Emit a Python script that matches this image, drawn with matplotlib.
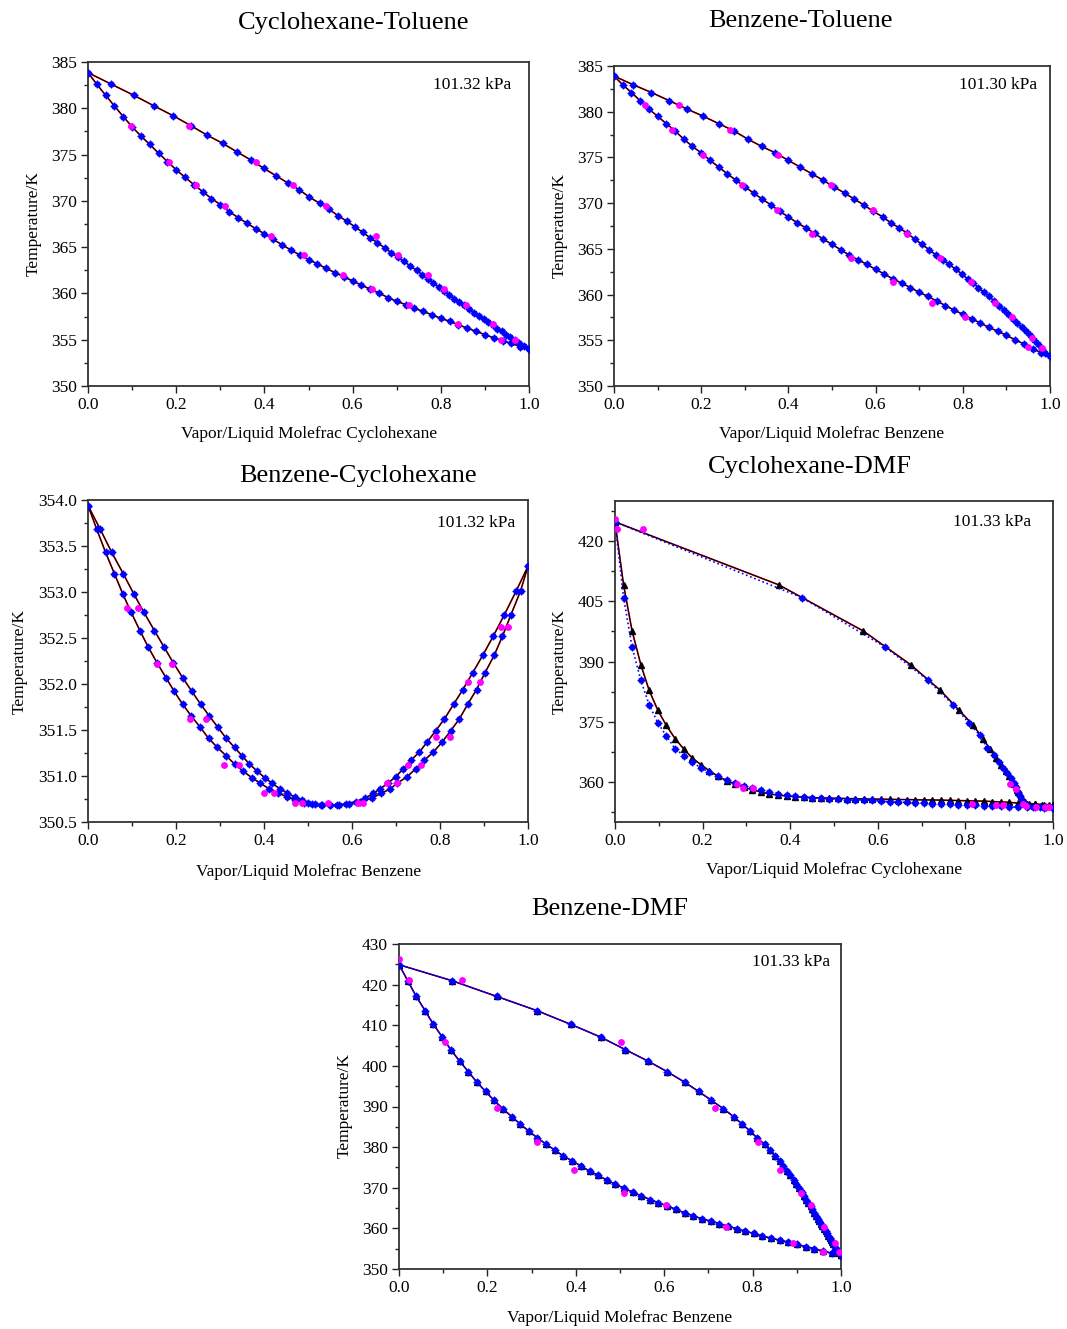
import numpy as np
import matplotlib
matplotlib.use("Agg")
import matplotlib.pyplot as plt
from matplotlib.ticker import MultipleLocator, FormatStrFormatter

plt.rcParams['font.family'] = ['Liberation Serif', 'DejaVu Serif']
plt.rcParams['mathtext.fontset'] = 'stix'

FIG_W, FIG_H = 1067, 1329

# liquid composition grids used by the models
x_grid = [0.00, 0.02, 0.04, 0.06, 0.08, 0.10, 0.12, 0.14, 0.16, 0.18,
          0.20, 0.22, 0.24, 0.26, 0.28, 0.30, 0.32, 0.34, 0.36, 0.38,
          0.40, 0.42, 0.44, 0.46, 0.48, 0.50, 0.52, 0.54, 0.56, 0.58,
          0.60, 0.62, 0.64, 0.66, 0.68, 0.70, 0.72, 0.74, 0.76, 0.78,
          0.80, 0.82, 0.84, 0.86, 0.88, 0.90, 0.92, 0.94, 0.96, 0.98,
          1.00]
x_fine = [0.0, 0.0196, 0.039, 0.059, 0.078, 0.098, 0.117, 0.137, 0.157, 0.176,
          0.196, 0.215, 0.235, 0.255, 0.274, 0.294, 0.313, 0.333, 0.352, 0.372,
          0.392, 0.411, 0.431, 0.45, 0.47, 0.489, 0.509, 0.529, 0.548, 0.568,
          0.587, 0.607, 0.627, 0.646, 0.666, 0.685, 0.705, 0.724, 0.744, 0.764,
          0.783, 0.803, 0.822, 0.842, 0.861, 0.881, 0.9, 0.92, 0.94, 0.959,
          0.979, 1.0]

# --- Cyclohexane-Toluene, 101.32 kPa
ct_T_liq = [383.85, 382.6, 381.4, 380.25, 379.1, 378.0, 377.0, 376.1, 375.15, 374.25,
            373.35, 372.55, 371.75, 371.0, 370.25, 369.6, 368.85, 368.2, 367.6, 367.0,
            366.45, 365.85, 365.25, 364.7, 364.15, 363.65, 363.2, 362.7, 362.25, 361.8,
            361.35, 360.9, 360.45, 360.05, 359.55, 359.15, 358.8, 358.4, 358.05, 357.7,
            357.3, 357.0, 356.6, 356.25, 355.9, 355.55, 355.2, 354.9, 354.6, 354.25,
            353.95]
ct_y_vap = [0.0, 0.053, 0.104, 0.15, 0.193, 0.234, 0.27, 0.306, 0.339, 0.37,
            0.399, 0.427, 0.454, 0.479, 0.502, 0.525, 0.546, 0.567, 0.587, 0.605,
            0.623, 0.64, 0.656, 0.673, 0.688, 0.702, 0.717, 0.731, 0.745, 0.758,
            0.771, 0.783, 0.795, 0.807, 0.819, 0.831, 0.841, 0.852, 0.865, 0.876,
            0.887, 0.897, 0.907, 0.918, 0.928, 0.938, 0.948, 0.958, 0.968, 0.978,
            0.988, 1.0]
ct_T_vap = [383.85, 382.6, 381.4, 380.25, 379.2, 378.1, 377.1, 376.2, 375.25, 374.4,
            373.5, 372.7, 371.9, 371.2, 370.4, 369.75, 369.1, 368.4, 367.8, 367.2,
            366.6, 366.0, 365.5, 364.9, 364.4, 363.9, 363.45, 362.95, 362.5, 362.0,
            361.6, 361.15, 360.7, 360.3, 359.85, 359.45, 359.05, 358.7, 358.3, 357.9,
            357.55, 357.2, 356.9, 356.55, 356.2, 355.9, 355.55, 355.25, 355.0, 354.6,
            354.3, 353.95]
ct_exp_x = [0.23, 0.38, 0.465, 0.54, 0.652, 0.704, 0.77, 0.808, 0.857, 0.918, 0.969,
            0.097, 0.184, 0.245, 0.311, 0.416, 0.49, 0.579, 0.645, 0.729, 0.84, 0.936]
ct_exp_T = [378.05, 374.15, 371.75, 369.4, 366.2, 364.15, 361.95, 360.5, 358.75, 356.65, 355.0,
            378.05, 374.15, 371.75, 369.4, 366.2, 364.15, 361.95, 360.5, 358.75, 356.65, 355.0]

# --- Benzene-Toluene, 101.30 kPa
bt_T = [383.9, 382.95, 382.1, 381.2, 380.3, 379.5, 378.7, 377.9, 377.0, 376.2,
        375.5, 374.7, 373.95, 373.2, 372.5, 371.8, 371.1, 370.45, 369.8, 369.1,
        368.5, 367.85, 367.3, 366.7, 366.05, 365.5, 364.9, 364.3, 363.8, 363.3,
        362.75, 362.25, 361.7, 361.25, 360.75, 360.25, 359.8, 359.3, 358.8, 358.3,
        357.85, 357.35, 356.9, 356.4, 356.0, 355.55, 355.05, 354.6, 354.05, 353.65,
        353.3]
bt_y = [0.0, 0.044, 0.086, 0.127, 0.167, 0.205, 0.24, 0.275, 0.307, 0.339,
        0.37, 0.399, 0.427, 0.454, 0.48, 0.504, 0.529, 0.551, 0.573, 0.595,
        0.616, 0.635, 0.654, 0.673, 0.69, 0.706, 0.723, 0.739, 0.754, 0.769,
        0.784, 0.798, 0.811, 0.824, 0.836, 0.848, 0.86, 0.872, 0.883, 0.894,
        0.904, 0.915, 0.925, 0.935, 0.944, 0.954, 0.963, 0.972, 0.981, 0.989,
        1.0]
bt_exp_x = [0.148, 0.265, 0.375, 0.497, 0.595, 0.671, 0.748, 0.819, 0.874, 0.912, 0.958, 0.981,
            0.07, 0.134, 0.205, 0.294, 0.373, 0.455, 0.544, 0.639, 0.729, 0.805, 0.95]
bt_exp_T = [380.7, 377.95, 375.3, 372.0, 369.2, 366.65, 364.0, 361.4, 359.1, 357.5, 355.3, 354.2,
            380.7, 377.95, 375.3, 372.0, 369.2, 366.65, 364.0, 361.4, 359.1, 357.5, 354.3]

# --- Benzene-Cyclohexane, 101.32 kPa
bc_T = [353.94, 353.68, 353.43, 353.2, 352.98, 352.78, 352.58, 352.4, 352.23, 352.07,
        351.92, 351.78, 351.65, 351.53, 351.41, 351.31, 351.22, 351.13, 351.05, 350.98,
        350.92, 350.86, 350.82, 350.77, 350.74, 350.71, 350.70, 350.68, 350.68,
        350.68, 350.70,
        350.72, 350.76, 350.81, 350.86, 350.92, 350.99, 351.08, 351.17, 351.26, 351.37,
        351.49, 351.62, 351.78, 351.94, 352.12, 352.31, 352.52, 352.75, 353.01, 353.28]
bc_x = [0.0, 0.02, 0.04, 0.06, 0.079, 0.098, 0.118, 0.137, 0.157, 0.177,
        0.196, 0.215, 0.235, 0.255, 0.274, 0.294, 0.314, 0.333, 0.353, 0.373,
        0.392, 0.412, 0.432, 0.452, 0.471, 0.491, 0.51, 0.53, 0.55,
        0.571, 0.594,
        0.619, 0.645, 0.666, 0.687, 0.702, 0.725, 0.745, 0.764, 0.785, 0.805,
        0.824, 0.844, 0.863, 0.883, 0.902, 0.923, 0.942, 0.961, 0.983, 1.0]
bc_y = [0.0, 0.028, 0.054, 0.08, 0.104, 0.127, 0.151, 0.173, 0.194, 0.215,
        0.236, 0.256, 0.276, 0.295, 0.314, 0.333, 0.35, 0.367, 0.385, 0.402,
        0.419, 0.436, 0.452, 0.47, 0.486, 0.501, 0.516, 0.532, 0.55,
        0.567, 0.586,
        0.608, 0.63, 0.648, 0.664, 0.681, 0.699, 0.717, 0.734, 0.753, 0.771,
        0.79, 0.81, 0.831, 0.852, 0.874, 0.897, 0.921, 0.946, 0.973, 1.0]
bc_exp_x = [0.089, 0.114, 0.156, 0.192, 0.232, 0.268, 0.309, 0.343, 0.401, 0.423, 0.47, 0.486,
            0.545, 0.614, 0.626, 0.679, 0.703, 0.727, 0.757, 0.792, 0.823, 0.864, 0.892, 0.939, 0.954]
bc_exp_T = [352.83, 352.83, 352.22, 352.22, 351.62, 351.62, 351.12, 351.12, 350.82, 350.82, 350.71, 350.71,
            350.71, 350.71, 350.71, 350.92, 350.92, 351.12, 351.12, 351.42, 351.42, 352.02, 352.02, 352.62, 352.62]

# --- Cyclohexane-DMF, 101.33 kPa
cd_T_blue = [424.8, 405.9, 393.6, 385.3, 379.2, 374.7, 371.45, 368.3, 366.56, 364.9,
             363.5, 362.4, 361.35, 360.4, 359.7, 358.95, 358.35, 357.95, 357.5, 357.1,
             356.7, 356.45, 356.3, 356.05, 355.9, 355.8, 355.7, 355.6, 355.55, 355.45,
             355.4, 355.2, 355.05, 354.95, 354.9, 354.8, 354.7, 354.55, 354.45, 354.4,
             354.3, 354.2, 354.15, 354.05, 353.95, 353.9, 353.8, 353.7, 353.65, 353.62,
             353.6, 353.6]
cd_y_blue = [0.0, 0.427, 0.617, 0.715, 0.772, 0.808, 0.833, 0.85, 0.865, 0.877, 0.886, 0.895,
             0.903, 0.91, 0.916, 0.921, 0.925, 0.93, 0.935, 0.943, 0.955, 0.97, 0.985, 1.0]
cd_Ty_blue = [424.8, 405.9, 393.6, 385.3, 379.2, 374.7, 371.6, 368.5, 366.6, 364.9, 363.5, 362.2,
              361.0, 359.8, 358.6, 357.6, 356.5, 355.4, 354.4, 353.9, 353.75, 353.7, 353.65, 353.6]
cd_T_black = [424.8, 409.1, 397.6, 389.2, 382.8, 377.8, 374.1, 370.8, 368.2, 366.0,
              364.3, 362.8, 361.4, 360.3, 359.5, 358.7, 358.0, 357.5, 357.0, 356.7,
              356.5, 356.3, 356.2, 356.1, 356.0, 355.95, 355.9, 355.85, 355.8, 355.75,
              355.7, 355.7, 355.65, 355.6, 355.6, 355.55, 355.5, 355.5, 355.45, 355.4,
              355.35, 355.3, 355.25, 355.2, 355.1, 355.0, 354.9, 354.7, 354.5, 354.4,
              354.3, 354.2]
cd_y_black = [0.0, 0.374, 0.567, 0.675, 0.743, 0.786, 0.818, 0.84, 0.856, 0.871, 0.882, 0.892, 0.9,
              0.906, 0.911, 0.915, 0.918, 0.921, 0.924, 0.927, 0.93, 0.935, 0.945, 0.96, 0.975, 0.99, 1.0]
cd_Ty_black = [424.8, 409.1, 397.6, 389.2, 382.8, 377.8, 374.1, 370.8, 368.2, 366.0, 364.3, 362.8, 361.4,
               360.3, 359.5, 358.7, 358.0, 357.5, 357.0, 356.5, 355.8, 355.0, 354.6, 354.45, 354.35, 354.25, 354.2]
cd_exp_x = [0.0, 0.005, 0.065, 0.278, 0.293, 0.314, 0.814, 0.87, 0.886, 0.901, 0.915, 0.932, 0.939, 0.962, 0.981, 0.992]
cd_exp_T = [425.6, 423.1, 423.1, 359.5, 358.35, 358.35, 354.4, 354.15, 354.15, 359.5, 358.1, 354.5, 353.95, 353.7, 353.7, 353.7]

# --- Benzene-DMF, 101.33 kPa
bd_T = [424.9, 421.0, 417.1, 413.6, 410.2, 407.1, 404.0, 401.2, 398.55, 396.0,
        393.7, 391.5, 389.45, 387.5, 385.7, 383.9, 382.3, 380.7, 379.3, 377.8,
        376.6, 375.4, 374.1, 373.1, 371.9, 370.9, 369.9, 368.9, 368.0, 367.1,
        366.3, 365.5, 364.65, 363.8, 363.1, 362.35, 361.8, 361.2, 360.55, 359.9,
        359.3, 358.75, 358.1, 357.6, 357.1, 356.6, 356.05, 355.5, 355.0, 354.4,
        353.9, 353.35]
bd_y = [0.0, 0.119, 0.221, 0.312, 0.389, 0.456, 0.512, 0.563, 0.607, 0.646,
        0.678, 0.707, 0.734, 0.757, 0.776, 0.795, 0.81, 0.827, 0.839, 0.851,
        0.861, 0.869, 0.878, 0.884, 0.893, 0.899, 0.905, 0.911, 0.916, 0.921,
        0.926, 0.931, 0.935, 0.94, 0.944, 0.948, 0.951, 0.954, 0.958, 0.962,
        0.965, 0.968, 0.971, 0.974, 0.977, 0.98, 0.983, 0.986, 0.989, 0.993,
        0.996, 1.0]
bd_exp_x = [0.0, 0.023, 0.142, 0.104, 0.221, 0.313, 0.503, 0.396, 0.508, 0.605, 0.715,
            0.812, 0.74, 0.863, 0.91, 0.891, 0.932, 0.962, 0.959, 0.986, 0.996]
bd_exp_T = [426.2, 421.2, 421.2, 405.8, 389.7, 381.3, 405.8, 374.4, 368.6, 365.7, 389.7,
            381.3, 360.4, 374.4, 368.6, 356.4, 365.7, 360.4, 354.3, 356.4, 354.3]

BLUE = '#0000ff'
MAGENTA = '#ff00ff'


def px_axes(fig, left, top, right, bottom):
    return fig.add_axes([left / FIG_W, 1 - bottom / FIG_H,
                         (right - left) / FIG_W, (bottom - top) / FIG_H])


def px_text(fig, x, y, s, **kw):
    return fig.text(x / FIG_W, 1 - y / FIG_H, s, ha='center', va='center', **kw)


def style(ax, ylim, major, minor, yfmt):
    ax.set_xlim(0, 1)
    ax.set_ylim(*ylim)
    ax.xaxis.set_major_locator(MultipleLocator(0.2))
    ax.xaxis.set_minor_locator(MultipleLocator(0.1))
    ax.xaxis.set_major_formatter(FormatStrFormatter('%.1f'))
    ax.yaxis.set_major_locator(MultipleLocator(major))
    ax.yaxis.set_minor_locator(MultipleLocator(minor))
    ax.yaxis.set_major_formatter(FormatStrFormatter(yfmt))
    ax.tick_params(which='both', direction='out', top=False, right=False,
                   labelsize=12.5, width=1.0, color='#222222')
    ax.tick_params(which='major', length=5, pad=3)
    ax.tick_params(which='minor', length=3)
    for sp in ax.spines.values():
        sp.set_linewidth(1.3)
        sp.set_color('#333333')


def blue_pts(ax, xs, ts, ls='none', lw=1.0):
    ax.plot(xs, ts, ls=ls, lw=lw, color=BLUE, marker='o', ms=3.7,
            mfc=BLUE, mec=BLUE, zorder=4)
    ax.plot(xs, ts, ls='none', marker='+', ms=5.2, mew=0.9, color=BLUE, zorder=4)


def model_line(ax, xs, ts, tri=False):
    ax.plot(xs, ts, color='red', lw=1.2, zorder=2)
    ax.plot(xs, ts, color='black', lw=0.8, zorder=3,
            marker='^' if tri else None, ms=4.3, mfc='black', mec='black')


def exp_pts(ax, xs, ts):
    ax.plot(xs, ts, ls='none', marker='o', ms=3.9, color=MAGENTA, zorder=5)


fig = plt.figure(figsize=(FIG_W / 100, FIG_H / 100), dpi=100)

# Cyclohexane-Toluene
ax = px_axes(fig, 88, 62, 529, 386)
model_line(ax, x_grid, ct_T_liq)
model_line(ax, ct_y_vap, ct_T_vap)
blue_pts(ax, x_grid, ct_T_liq)
blue_pts(ax, ct_y_vap, ct_T_vap)
exp_pts(ax, ct_exp_x, ct_exp_T)
style(ax, (350, 385), 5, 2.5, '%d')
ax.text(0.96, 0.929, '101.32 kPa', transform=ax.transAxes, ha='right', va='center', fontsize=12.5)
px_text(fig, 354, 23, 'Cyclohexane-Toluene', fontsize=19)
px_text(fig, 309, 434, 'Vapor/Liquid Molefrac Cyclohexane', fontsize=12.5)
px_text(fig, 34, 224, 'Temperature/K', fontsize=12.5, rotation=90)

# Benzene-Toluene
ax = px_axes(fig, 614, 66, 1050, 386)
model_line(ax, x_grid, bt_T)
model_line(ax, bt_y, bt_T)
blue_pts(ax, x_grid, bt_T)
blue_pts(ax, bt_y, bt_T)
exp_pts(ax, bt_exp_x, bt_exp_T)
style(ax, (350, 385), 5, 2.5, '%d')
ax.text(0.97, 0.94, '101.30 kPa', transform=ax.transAxes, ha='right', va='center', fontsize=12.5)
px_text(fig, 800, 21, 'Benzene-Toluene', fontsize=19)
px_text(fig, 832, 434, 'Vapor/Liquid Molefrac Benzene', fontsize=12.5)
px_text(fig, 560, 226, 'Temperature/K', fontsize=12.5, rotation=90)

# Benzene-Cyclohexane
ax = px_axes(fig, 88, 500, 528, 822)
model_line(ax, bc_x, bc_T)
model_line(ax, bc_y, bc_T)
blue_pts(ax, bc_x, bc_T)
blue_pts(ax, bc_y, bc_T)
exp_pts(ax, bc_exp_x, bc_exp_T)
style(ax, (350.5, 354.0), 0.5, 0.25, '%.1f')
ax.text(0.97, 0.93, '101.32 kPa', transform=ax.transAxes, ha='right', va='center', fontsize=12.5)
px_text(fig, 358, 476, 'Benzene-Cyclohexane', fontsize=19)
px_text(fig, 309, 872, 'Vapor/Liquid Molefrac Benzene', fontsize=12.5)
px_text(fig, 20, 662, 'Temperature/K', fontsize=12.5, rotation=90)

# Cyclohexane-DMF
ax = px_axes(fig, 615, 501, 1053, 822)
model_line(ax, x_fine, cd_T_black, tri=True)
model_line(ax, cd_y_black, cd_Ty_black, tri=True)
blue_pts(ax, x_fine, cd_T_blue, ls=':', lw=1.2)
blue_pts(ax, cd_y_blue, cd_Ty_blue, ls=':', lw=1.2)
exp_pts(ax, cd_exp_x, cd_exp_T)
style(ax, (350, 430), 15, 7.5, '%d')
ax.text(0.95, 0.935, '101.33 kPa', transform=ax.transAxes, ha='right', va='center', fontsize=12.5)
px_text(fig, 810, 467, 'Cyclohexane-DMF', fontsize=19)
px_text(fig, 834, 870, 'Vapor/Liquid Molefrac Cyclohexane', fontsize=12.5)
px_text(fig, 560, 662, 'Temperature/K', fontsize=12.5, rotation=90)

# Benzene-DMF
ax = px_axes(fig, 399, 944, 841, 1269)
model_line(ax, x_fine, bd_T, tri=True)
model_line(ax, bd_y, bd_T, tri=True)
blue_pts(ax, x_fine, bd_T, ls='-', lw=0.8)
blue_pts(ax, bd_y, bd_T, ls='-', lw=0.8)
exp_pts(ax, bd_exp_x, bd_exp_T)
style(ax, (350, 430), 10, 5, '%d')
ax.text(0.975, 0.945, '101.33 kPa', transform=ax.transAxes, ha='right', va='center', fontsize=12.5)
px_text(fig, 610, 909, 'Benzene-DMF', fontsize=19)
px_text(fig, 620, 1318, 'Vapor/Liquid Molefrac Benzene', fontsize=12.5)
px_text(fig, 345, 1105, 'Temperature/K', fontsize=12.5, rotation=90)

fig.savefig('out.png', dpi=100)
